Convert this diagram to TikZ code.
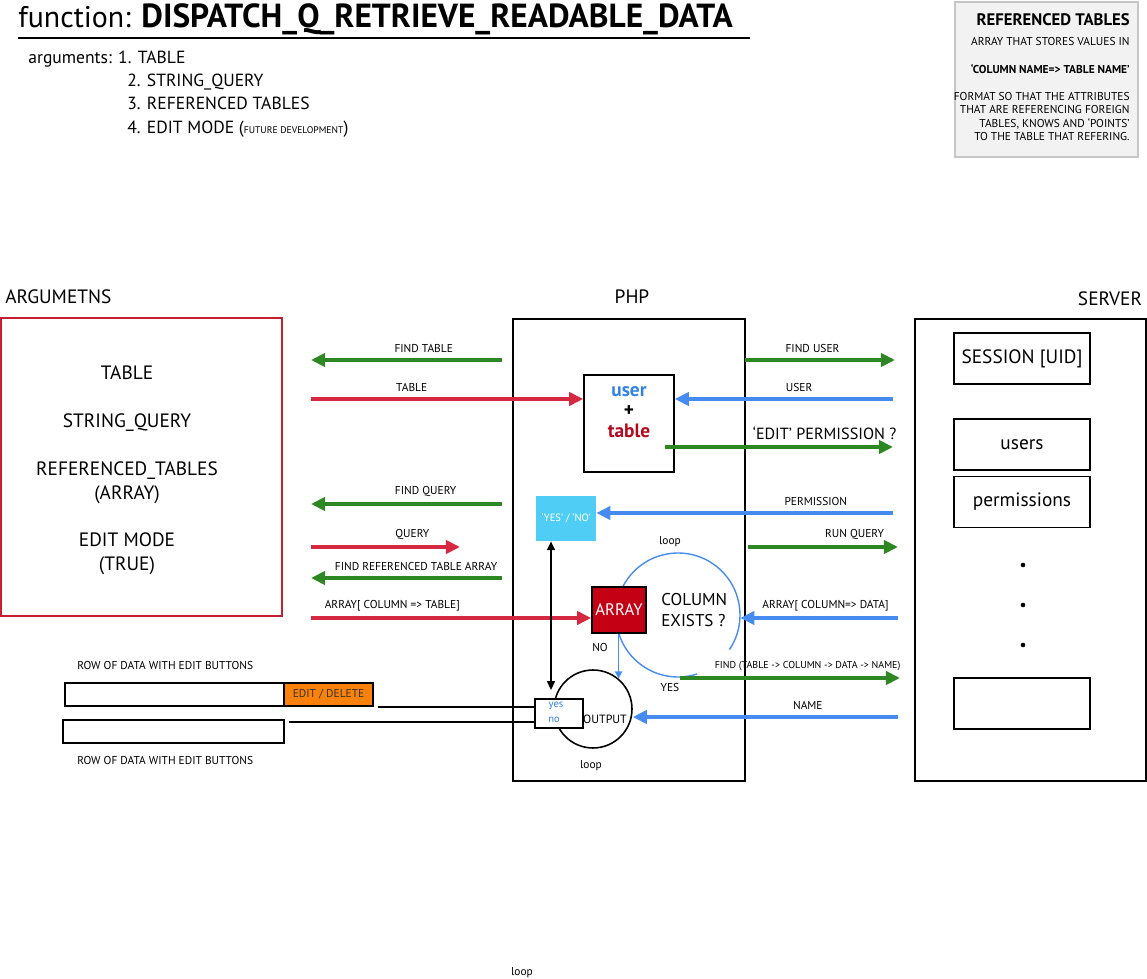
\documentclass[tikz,border=0pt]{standalone}
\usepackage{fontspec}
\setmainfont{PT Sans}
\usepackage{xcolor}
\usetikzlibrary{arrows.meta, positioning}

\definecolor{argred}{RGB}{200,30,50}
\definecolor{arrred}{RGB}{215,40,65}
\definecolor{arrgreen}{RGB}{45,135,35}
\definecolor{arrblue}{RGB}{70,140,240}
\definecolor{ynblue}{RGB}{80,205,245}
\definecolor{arrfill}{RGB}{195,0,20}
\definecolor{editorange}{RGB}{250,130,10}
\definecolor{userblue}{RGB}{50,130,230}
\definecolor{tablered}{RGB}{180,10,30}

\newcommand{\fsz}[2]{\fontsize{#1}{#2}\selectfont}

\begin{document}
\begin{tikzpicture}[
  x=0.02cm, y=-0.02cm,
  every node/.style={inner sep=0pt},
  box/.style={draw, line width=0.9pt},
  tiny/.style={font=\fsz{6.5}{8}},
  mid/.style={font=\fsz{11}{13.6}},
  lbl/.style={tiny, above=3pt},
  fat/.style={line width=2pt, -{Triangle[length=8pt,width=7.5pt]}},
  gr/.style={fat, draw=arrgreen},
  rd/.style={fat, draw=arrred},
  bl/.style={fat, draw=arrblue},
  srv/.style={box, minimum width=2.72cm, minimum height=1.02cm, mid},
  row/.style={box, minimum height=0.46cm}
]
\useasboundingbox (0,0) rectangle (1147,979);

% heading
\node[anchor=base west, font=\fsz{17}{20}] (title) at (18,28) {function: {\fsz{19}{20}\bfseries DISPATCH\_Q\_RETRIEVE\_READABLE\_DATA}};
\draw[line width=1.6pt] (18,38) -- (750,38);
\node[anchor=base west, font=\fsz{10}{12}] (a1) at (28,64) {arguments: 1. TABLE};
\node[anchor=base west, font=\fsz{10}{12}] (a2) at (127,87) {2. STRING\_QUERY};
\node[anchor=base west, font=\fsz{10}{12}] (a3) at (127,110) {3. REFERENCED TABLES};
\node[anchor=base west, font=\fsz{10}{12}] (a4) at (127,134) {4. EDIT MODE ({\fsz{5.5}{6}FUTURE DEVELOPMENT})};

% note box
\node[box, draw=gray!45, line width=1.5pt, fill=gray!10, minimum width=3.66cm, minimum height=3.1cm] (ref) at (1046.5,79.5) {};
\node[anchor=north east, align=right, font=\fsz{6.5}{7.6}] (reftxt) at (1130,13)
  {{\fsz{9.5}{11}\bfseries REFERENCED TABLES}\\[4pt]
   ARRAY THAT STORES VALUES IN\\[8pt]
   \textbf{‘COLUMN NAME=> TABLE NAME’}\\[8pt]
   FORMAT SO THAT THE ATTRIBUTES\\
   THAT ARE REFERENCING FOREIGN\\
   TABLES, KNOWS AND ‘POINTS’\\
   TO THE TABLE THAT REFERING.};

% columns
\node[mid, anchor=west] (argl) at (5,297) {ARGUMETNS};
\node[mid] (phpl) at (632,297) {PHP};
\node[mid] (srvl) at (1110,299) {SERVER};

\node[box, draw=argred, line width=0.8pt, minimum width=5.62cm, minimum height=5.96cm] (args) at (141.5,467) {};
\node[mid, align=center] (argtxt) at (127,470.5)
  {TABLE\\[13.6pt] STRING\_QUERY\\[13.6pt] REFERENCED\_TABLES\\ (ARRAY)\\[13.6pt] EDIT MODE\\ (TRUE)};
\node[box, minimum width=4.64cm, minimum height=9.24cm] (php) at (629,550) {};
\node[box, minimum width=4.62cm, minimum height=9.24cm] (server) at (1030.5,550) {};

% server tables
\node[srv] (sess) at (1022,358.5) {SESSION [UID]};
\node[srv] (users) at (1022,444.5) {users};
\node[srv] (perm) at (1022,502) {permissions};
\node[srv] (more) at (1022,703.5) {};
\fill (1023,565) circle (1.3pt) (1023,605) circle (1.3pt) (1023,645) circle (1.3pt);

% php inner parts
\node[box, minimum width=1.8cm, minimum height=1.94cm] (ut) at (629,423.5) {};
\node[align=center, font=\fsz{11}{11.5}\bfseries] (uttxt) at (629,412)
  {\textcolor{userblue}{user}\\ +\\ \textcolor{tablered}{table}};
\node[fill=ynblue, minimum width=1.2cm, minimum height=0.9cm, text=white, font=\fsz{6}{7}] (yn) at (566,518.5) {‘YES’ / ‘NO’};
\node[circle, minimum size=2.48cm] (lp) at (678,615) {};
\draw[arrblue, line width=0.8pt] (lp.center) ++(-34:1.24cm) arc[start angle=-34, end angle=288, radius=1.24cm];
\node[box, fill=arrfill, minimum width=1.08cm, minimum height=0.92cm, text=white, font=\fsz{9.5}{11}] (arr) at (619,610) {ARRAY};
\node[font=\fsz{9.7}{11.5}, align=left, anchor=west] (colex) at (661,610) {COLUMN\\ EXISTS ?};
\node[tiny] (lpt) at (670,542) {loop};
\node[tiny] (no) at (600,648) {NO};
\node[tiny] (yes) at (670,688) {YES};
\node[circle, draw, line width=0.9pt, minimum size=1.56cm] (out) at (593,709) {};
\node[font=\fsz{6.8}{8}] (outt) at (605,719) {OUTPUT};
\node[tiny] (lpb) at (591,766) {loop};
\node[box, fill=white, minimum width=0.96cm, minimum height=0.58cm] (ynb) at (559,713.5) {};
\node[font=\fsz{6}{7}, text=userblue] (yest) at (556,706) {yes};
\node[font=\fsz{6}{7}, text=userblue] (not) at (554,720) {no};

% rows
\node[tiny, anchor=west] (rl1) at (77,666) {ROW OF DATA WITH EDIT BUTTONS};
\node[row, minimum width=4.38cm] (row1) at (174.5,694.5) {};
\node[row, fill=editorange, minimum width=1.78cm, tiny, text=black!80] (edit) at (328.5,694.5) {EDIT / DELETE};
\node[row, minimum width=4.42cm] (row2) at (173.5,731.5) {};
\node[tiny, anchor=west] (rl2) at (77,761) {ROW OF DATA WITH EDIT BUTTONS};
\node[tiny] (lpe) at (522,973) {loop};

% free ends of the arrows
\coordinate (ftA) at (502,360); \coordinate (ftB) at (311,360);
\coordinate (tbA) at (311,399);
\coordinate (fqA) at (502,504); \coordinate (fqB) at (311,504);
\coordinate (qA) at (311,547);  \coordinate (qB) at (460,547);
\coordinate (frA) at (502,578); \coordinate (frB) at (311,578);
\coordinate (acA) at (311,618);
\coordinate (fuA) at (745,360); \coordinate (fuB) at (895,360);
\coordinate (uA) at (893,399);
\coordinate (epA) at (665,447); \coordinate (epB) at (893,447);
\coordinate (pA) at (893,513);
\coordinate (rqA) at (748,547); \coordinate (rqB) at (898,547);
\coordinate (adA) at (898,618);
\coordinate (fnA) at (680,678); \coordinate (fnB) at (900,678);
\coordinate (nA) at (898,717);
\coordinate (dA) at (551,690);
\coordinate (r1) at (378,707);
\coordinate (r2) at (289,722);

% php <-> arguments
\draw[gr] (ftA) -- node[lbl, pos=0.41] {FIND TABLE} (ftB);
\draw[rd] (tbA) -- node[lbl, pos=0.37] {TABLE} (tbA -| ut.west);
\draw[gr] (fqA) -- node[lbl, pos=0.40] {FIND QUERY} (fqB);
\draw[rd] (qA) -- node[lbl, pos=0.68] {QUERY} (qB);
\draw[gr] (frA) -- node[lbl, pos=0.45] {FIND REFERENCED TABLE ARRAY} (frB);
\draw[rd] (acA) -- node[lbl, pos=0.29] {ARRAY[ COLUMN => TABLE]} (acA -| arr.west);

% php <-> server
\draw[gr] (fuA) -- node[lbl, pos=0.45] {FIND USER} (fuB);
\draw[bl] (uA) -- node[lbl, pos=0.43] {USER} (uA -| ut.east);
\draw[gr] (epA) -- node[above=3pt, pos=0.70, font=\fsz{9.2}{11}] {‘EDIT’ PERMISSION ?} (epB);
\draw[bl] (pA) -- node[lbl, pos=0.26] {PERMISSION} (pA -| yn.east);
\draw[gr] (rqA) -- node[lbl, pos=0.71] {RUN QUERY} (rqB);
\draw[bl] (adA) -- node[lbl, pos=0.46] {ARRAY[ COLUMN=> DATA]} (adA -| lp.east);
\draw[gr] (fnA) -- node[lbl, pos=0.58, font=\fsz{5.7}{7}] {FIND (TABLE -> COLUMN -> DATA -> NAME)} (fnB);
\draw[bl] (nA) -- node[lbl, pos=0.34] {NAME} (nA -| out.east);

% inside php
\draw[arrblue, line width=0.9pt, -{Triangle[length=4pt,width=4pt]}] (arr.south -| out.50) -- (out.50);
\draw[line width=1pt, {Triangle[length=5pt,width=4.5pt]}-{Triangle[length=5pt,width=4.5pt]}] (dA |- yn.south) -- (dA);
\draw[line width=0.8pt] (r1) -- (r1 -| ynb.west);
\draw[line width=0.8pt] (r2) -- (r2 -| ynb.west);
\end{tikzpicture}
\end{document}
